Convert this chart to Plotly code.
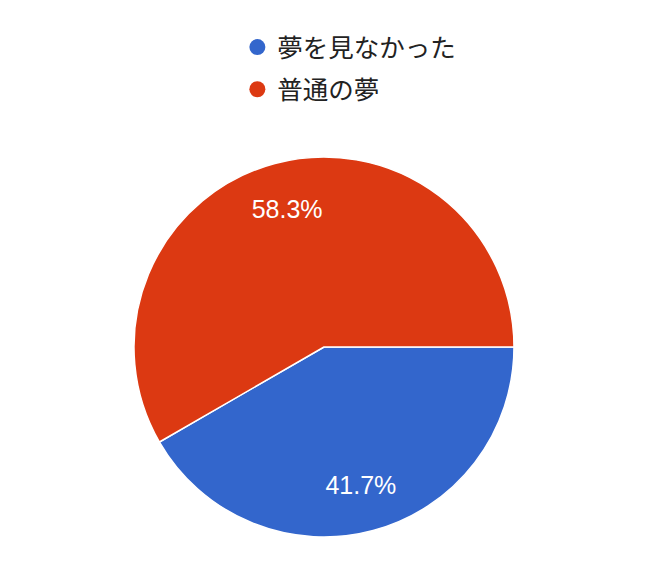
import plotly.graph_objects as go

labels = ["夢を見なかった", "普通の夢"]
counts = [5, 7]
colors = ["#3366CC", "#DC3912"]

font_family = "Liberation Sans, Arial, Noto Sans CJK JP, sans-serif"

# the page is drawn with an 8px body margin, so positions are nudged up/left by 8px
pie_domain = dict(x=[0.1906, 0.7655], y=[0.0587, 0.7349])

fig = go.Figure()

# full pie with the slices
fig.add_trace(go.Pie(
    labels=labels,
    values=counts,
    marker=dict(colors=colors, line=dict(color="white", width=1.5)),
    sort=False,
    direction="clockwise",
    rotation=90,
    textinfo="none",
    showlegend=False,
    hoverinfo="label+percent",
    domain=pie_domain,
))

# transparent ring on top only to push the percent labels outwards
fig.add_trace(go.Pie(
    labels=labels,
    values=counts,
    hole=0.5,
    marker=dict(colors=["rgba(0,0,0,0)"] * len(labels), line=dict(width=0)),
    sort=False,
    direction="clockwise",
    rotation=90,
    texttemplate="%{percent:.1%}",
    textposition="inside",
    insidetextorientation="horizontal",
    textfont=dict(color="white", size=25, family=font_family),
    showlegend=False,
    hoverinfo="skip",
    domain=pie_domain,
))

# legend entries with round symbols
for i in range(len(labels)):
    fig.add_trace(go.Scatter(
        x=[None], y=[None],
        mode="markers",
        marker=dict(color=colors[i], size=24, symbol="circle"),
        name=labels[i],
        legendgroup=labels[i],
    ))

fig.update_layout(
    width=661,
    height=562,
    margin=dict(l=0, r=0, t=0, b=0),
    paper_bgcolor="white",
    plot_bgcolor="white",
    xaxis=dict(visible=False),
    yaxis=dict(visible=False),
    legend=dict(
        x=0.347, y=1 - 16 / 562,
        xanchor="left", yanchor="top",
        font=dict(size=25.5, color="#222222", family=font_family),
        traceorder="grouped",
        tracegroupgap=6,
        bgcolor="rgba(0,0,0,0)",
    ),
)

fig.write_html("out.html")
